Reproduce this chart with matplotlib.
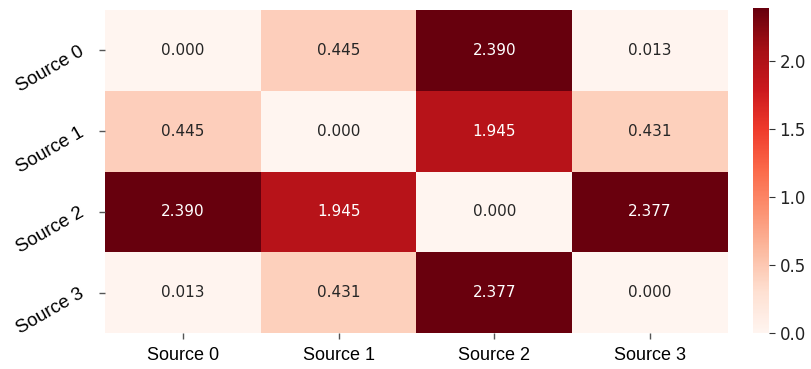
import matplotlib
matplotlib.use("Agg")
import matplotlib.pyplot as plt
import seaborn as sns
import numpy as np

labels = ["Source 0", "Source 1", "Source 2", "Source 3"]
row0 = [0.000, 0.445, 2.390, 0.013]
row1 = [0.445, 0.000, 1.945, 0.431]
row2 = [2.390, 1.945, 0.000, 2.377]
row3 = [0.013, 0.431, 2.377, 0.000]
data = np.array([row0, row1, row2, row3])

fig = plt.figure(figsize=(8.12, 3.69), dpi=100)
ax = fig.add_axes([105/812, 36/369, 623/812, 323/369])
cax = fig.add_axes([753/812, 36/369, 16/812, 325/369])
sns.heatmap(data, ax=ax, cbar_ax=cax, cmap="Reds", annot=True, fmt=".3f",
            annot_kws={"fontsize": 11}, xticklabels=labels, yticklabels=labels)
ax.set_xticklabels(labels, fontsize=13, family="Liberation Sans", rotation=0)
ax.set_yticklabels(labels, fontsize=13.5, family="Liberation Sans", rotation=30,
                   ha="right", va="center", rotation_mode="anchor")
ax.tick_params(axis="both", length=4, width=1, color="#555555", pad=6)
ax.tick_params(axis="y", pad=12)
cax.tick_params(labelsize=12, length=4, color="#333333", labelcolor="#222222")
fig.savefig("out.png", dpi=100)
